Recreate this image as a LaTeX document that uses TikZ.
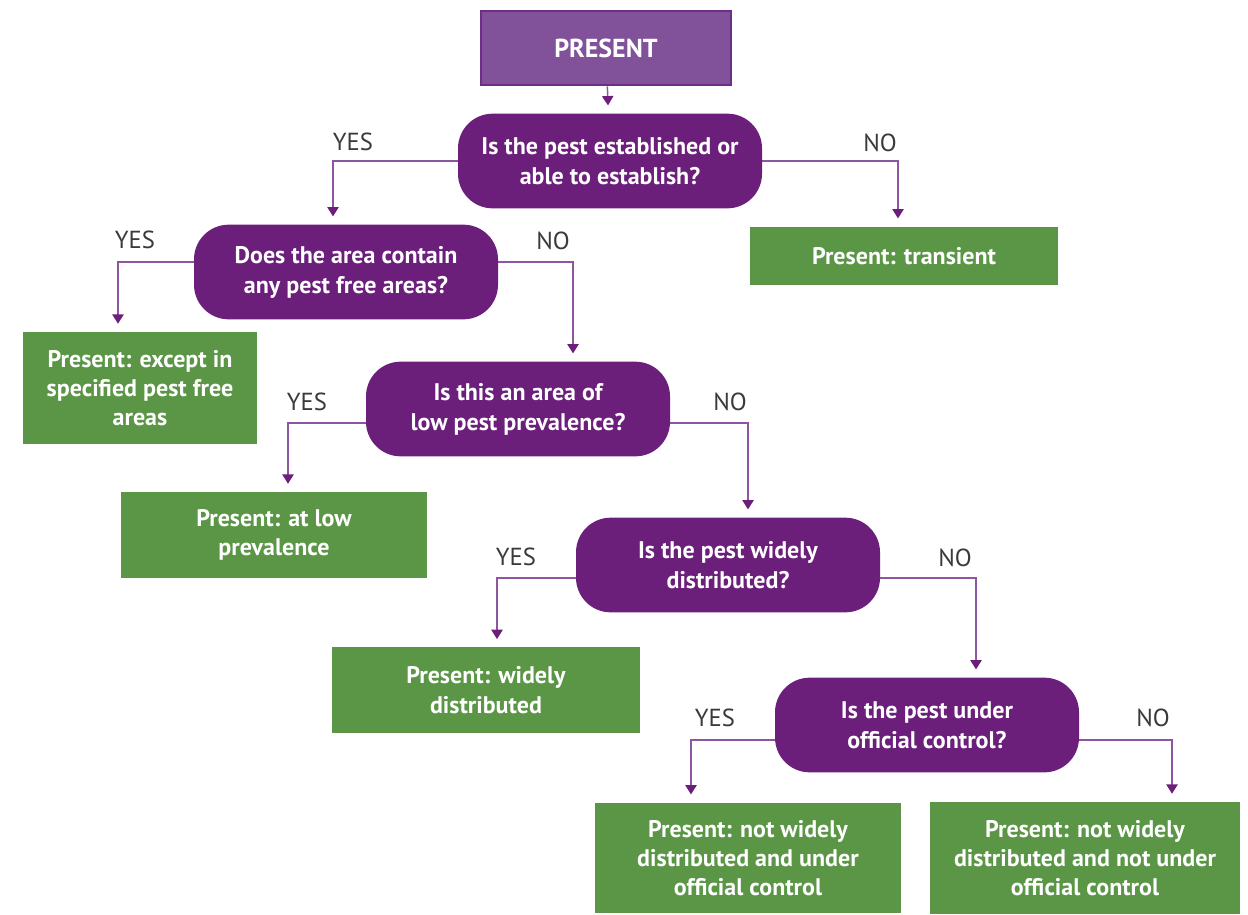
\documentclass[tikz,border=0pt]{standalone}
\usepackage{fontspec}
\setmainfont{PT Sans}
\usetikzlibrary{arrows.meta,backgrounds}

\definecolor{qpurple}{HTML}{6B1F7B}
\definecolor{toppurple}{HTML}{81519A}
\definecolor{topborder}{HTML}{6E2E86}
\definecolor{linepurple}{HTML}{8E56A0}
\definecolor{leafgreen}{HTML}{5A9645}
\definecolor{labelgray}{HTML}{3A3A3A}

\begin{document}
\begin{tikzpicture}[x=0.75pt,y=-0.75pt,
    link/.style={draw=linepurple,line width=1.1pt,
      -{Triangle[width=8.5pt,length=7pt,color=qpurple]},shorten >=6pt},
    answer/.style={text=labelgray,font=\fontsize{18.5}{20}\selectfont}]

  \useasboundingbox (0,0) rectangle (1248,914);

  \node[fill=toppurple,draw=topborder,line width=1.5pt,text=white,
    minimum width=187pt,minimum height=56pt,
    font=\bfseries\fontsize{19.5}{22}\selectfont] (present) at (606,48) {PRESENT};

  \begin{scope}[every node/.style={fill=qpurple,text=white,rounded corners=26pt,
      minimum width=228pt,minimum height=71pt,align=center,
      font=\bfseries\fontsize{18}{22.5}\selectfont}]
    \node (q1) at (610,161) {Is the pest established or\\able to establish?};
    \node (q2) at (346,272) {Does the area contain\\any pest free areas?};
    \node (q3) at (518,409) {Is this an area of\\low pest prevalence?};
    \node (q4) at (728,565) {Is the pest widely\\distributed?};
    \node (q5) at (927,725) {Is the pest under\\official control?};
  \end{scope}

  \begin{scope}[every node/.style={fill=leafgreen,text=white,align=center,
      inner sep=0pt,font=\bfseries\fontsize{18}{22}\selectfont}]
    \node[minimum width=231pt,minimum height=44pt] (g1) at (904,256) {Present: transient};
    \node[minimum width=175.5pt,minimum height=84pt] (g2) at (140,388) {Present: except in\\specified pest free\\areas};
    \node[minimum width=230pt,minimum height=64.5pt] (g3) at (274,535) {Present: at low\\prevalence};
    \node[minimum width=231pt,minimum height=64pt] (g4) at (486,690) {Present: widely\\distributed};
    \node[minimum width=230pt,minimum height=83pt] (g5) at (748,858) {Present: not widely\\distributed and under\\official control};
    \node[minimum width=232pt,minimum height=84pt] (g6) at (1085,858) {Present: not widely\\distributed and not under\\official control};
  \end{scope}

  \node[answer] (yes1) at (353,142) {YES};
  \node[answer] (no1)  at (880,143) {NO};
  \node[answer] (yes2) at (135,240) {YES};
  \node[answer] (no2)  at (553,241) {NO};
  \node[answer] (yes3) at (307,402) {YES};
  \node[answer] (no3)  at (730,402) {NO};
  \node[answer] (yes4) at (516,557) {YES};
  \node[answer] (no4)  at (955,558) {NO};
  \node[answer] (yes5) at (715,718) {YES};
  \node[answer] (no5)  at (1153,718) {NO};

  \begin{scope}[on background layer]
    \draw[link] (present) -- (q1);
    \draw[link] (q1.center) -| (333,0 |- q2.north);
    \draw[link] (q1.center) -| (898,0 |- g1.north);
    \draw[link] (q2.center |- 0,262) -| (118,0 |- g2.north);
    \draw[link] (q2.center |- 0,262) -| (573,0 |- q3.north);
    \draw[link] (q3.center |- 0,423) -| (288,0 |- g3.north);
    \draw[link] (q3.center |- 0,423) -| (748,0 |- q4.north);
    \draw[link] (q4.center |- 0,578) -| (497,0 |- g4.north);
    \draw[link] (q4.center |- 0,578) -| (976,0 |- q5.north);
    \draw[link] (q5.center |- 0,740) -| (691,0 |- g5.north);
    \draw[link] (q5.center |- 0,740) -| (1172,0 |- g6.north);
  \end{scope}

\end{tikzpicture}
\end{document}
